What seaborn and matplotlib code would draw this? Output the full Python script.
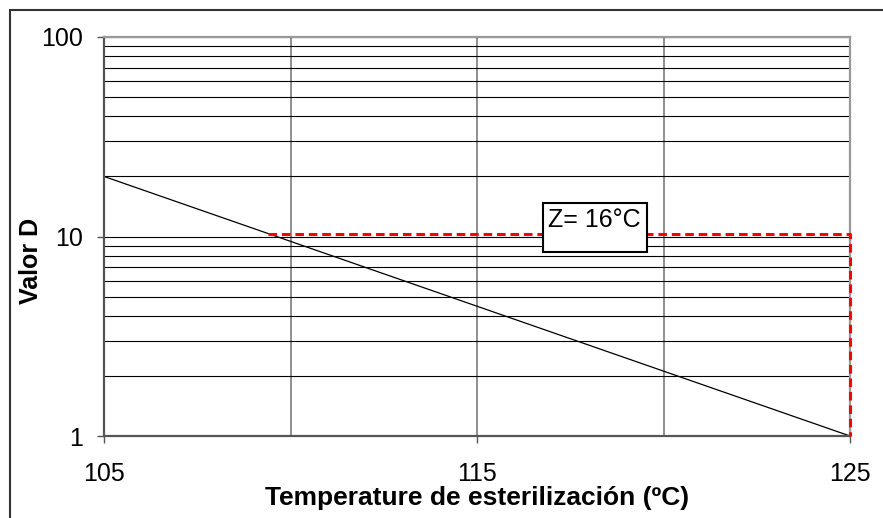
import matplotlib
matplotlib.use("Agg")
import matplotlib.pyplot as plt
import matplotlib.ticker as mticker
from matplotlib.patches import Rectangle
import seaborn as sns
import pandas as pd

# data
temps = [105, 125]
d_values = [20, 1]
z_temps = [109.4, 125, 125]
z_values = [10.3, 10.3, 1]
x_major = [105, 115, 125]
x_minor = [110, 120]
y_major = [1, 10, 100]
y_labels = ["1", "10", "100"]
z_text = "Z= 16°C"

sns.set_style("white")
plt.rcParams['font.family'] = ['Liberation Sans', 'DejaVu Sans']
plt.rcParams['text.color'] = 'black'
plt.rcParams['axes.labelcolor'] = 'black'
plt.rcParams['xtick.color'] = 'black'
plt.rcParams['ytick.color'] = 'black'

fig = plt.figure(figsize=(8.83, 5.18), dpi=100)
ax = fig.add_axes([104 / 883, 1 - 436 / 518, 746 / 883, 399 / 518])

df = pd.DataFrame({"T": temps, "D": d_values})
sns.lineplot(data=df, x="T", y="D", ax=ax, color="black", lw=0.9)
ax.plot(z_temps, z_values, color="#ff0000", lw=2.2, dashes=(2.8, 1.6), zorder=5, clip_on=False)

ax.set_yscale("log")
ax.set_xlim(105, 125)
ax.set_ylim(1, 100)

ax.set_xticks(x_major)
ax.set_xticks(x_minor, minor=True)
ax.set_xticklabels([str(v) for v in x_major], fontsize=18)
ax.yaxis.set_major_locator(mticker.FixedLocator(y_major))
ax.yaxis.set_major_formatter(mticker.FixedFormatter(y_labels))
ax.yaxis.set_minor_locator(mticker.LogLocator(base=10, subs=range(2, 10)))
ax.yaxis.set_minor_formatter(mticker.NullFormatter())
ax.tick_params(axis="y", which="major", labelsize=18, length=5, width=1, color="#555555",
               direction="out", left=True, pad=10)
ax.tick_params(axis="x", which="major", length=5, width=1, color="#555555",
               direction="out", bottom=True, pad=14)
ax.tick_params(which="minor", length=0)

ax.grid(True, axis="y", which="both", color="black", lw=0.8)
ax.grid(True, axis="x", which="both", color="#707070", lw=1.1)
ax.set_axisbelow(True)

for side in ["left", "bottom"]:
    ax.spines[side].set_color("#555555")
    ax.spines[side].set_linewidth(1.6)
for side in ["top", "right"]:
    ax.spines[side].set_color("#999999")
    ax.spines[side].set_linewidth(1.6)

ax.set_xlabel("Temperature de esterilización (ºC)", fontsize=19, fontweight="bold", labelpad=0)
ax.set_ylabel("Valor D", fontsize=18, fontweight="bold")
ax.yaxis.set_label_coords(-0.082, 0.44)

# annotation box
ax.add_patch(Rectangle((0.5885, 0.461), 0.1394, 0.1228, transform=ax.transAxes,
                       fc="white", ec="black", lw=1.5, zorder=6))
ax.text(0.595, 0.572, z_text, transform=ax.transAxes, fontsize=18, va="top", ha="left", zorder=7)

fig.patches.append(Rectangle((10 / 883, -0.1), 1.2, 1.1 - 10 / 518, transform=fig.transFigure,
                             fill=False, ec="#333333", lw=1.5))

fig.savefig("out.png", dpi=100)
